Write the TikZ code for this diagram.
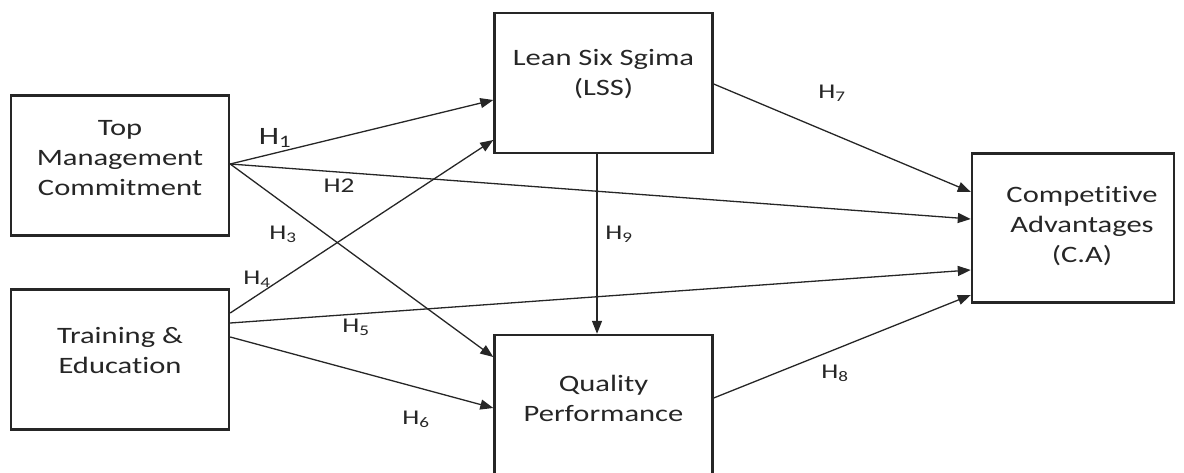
\documentclass[tikz,border=0pt]{standalone}
\usepackage{fontspec}
\setmainfont[FakeStretch=1.3,Ligatures=NoCommon]{Carlito}
\usetikzlibrary{arrows.meta}
\begin{document}
\begin{tikzpicture}[x=1pt,y=-1pt,
  box/.style={draw=black!85,line width=2.4pt,inner sep=0pt},
  txt/.style={align=center,font=\fontsize{23.5}{30}\selectfont,text=black!85},
  hlab/.style={font=\fontsize{21}{24}\selectfont,text=black!85,inner sep=0pt},
  hbig/.style={font=\fontsize{25}{28}\selectfont,text=black!85,inner sep=0pt},
  conn/.style={draw=black!85,line width=1.3pt,-{Triangle[length=13pt,width=10pt]}}]
\useasboundingbox (0,0) rectangle (1184,473);
\clip (0,0) rectangle (1184,473);
% boxes
\node[box,minimum width=218pt,minimum height=140pt] (tmc) at (120,165.5) {};
\node[box,minimum width=218pt,minimum height=140pt] (te) at (120,359.5) {};
\node[box,minimum width=218pt,minimum height=140pt] (lss) at (603.5,83) {};
\node[box,minimum width=218pt,minimum height=160pt] (qp) at (603.5,415) {};
\node[box,minimum width=202pt,minimum height=149pt] (ca) at (1073,228) {};
% texts
\node[txt] (tmct) at (120,158) {Top\\Management\\Commitment};
\node[txt] (tet) at (120,351) {Training \&\\Education};
\node[txt] (lsst) at (603.5,74) {Lean Six Sgima\\(LSS)};
\node[txt] (qpt) at (603.5,398) {Quality\\Performance};
\node[txt] (cat) at (1082,226) {Competitive\\Advantages\\(C.A)};
% connectors
\draw[conn] ([yshift=1.5pt]tmc.east) -- ([yshift=-17pt]lss.west);
\draw[conn] ([yshift=1.5pt]tmc.east) -- ([yshift=9pt]ca.west);
\draw[conn] ([yshift=1.5pt]tmc.east) -- ([yshift=58pt]qp.west);
\draw[conn] ([yshift=46.5pt]te.east) -- ([yshift=-57pt]lss.west);
\draw[conn] ([yshift=36.5pt]te.east) -- ([yshift=-42pt]ca.west);
\draw[conn] ([yshift=22.5pt]te.east) -- ([yshift=7pt]qp.west);
\draw[conn] ([yshift=-1pt]lss.east) -- ([yshift=36pt]ca.west);
\draw[conn] ([yshift=17pt]qp.east) -- ([yshift=-67pt]ca.west);
\draw[conn] ([xshift=-6.5pt]lss.south) -- ([xshift=-6.5pt]qp.north);
% labels
\node[hbig] (h1) at (275,138) {H\textsubscript{1}};
\node[hlab] (h2) at (339,186) {H2};
\node[hlab] (h3) at (283,234) {H\textsubscript{3}};
\node[hlab] (h4) at (257,279) {H\textsubscript{4}};
\node[hlab] (h5) at (356,327) {H\textsubscript{5}};
\node[hlab] (h6) at (416,419) {H\textsubscript{6}};
\node[hlab] (h7) at (832,93) {H\textsubscript{7}};
\node[hlab] (h8) at (835,373) {H\textsubscript{8}};
\node[hlab] (h9) at (619,234) {H\textsubscript{9}};
\end{tikzpicture}
\end{document}
